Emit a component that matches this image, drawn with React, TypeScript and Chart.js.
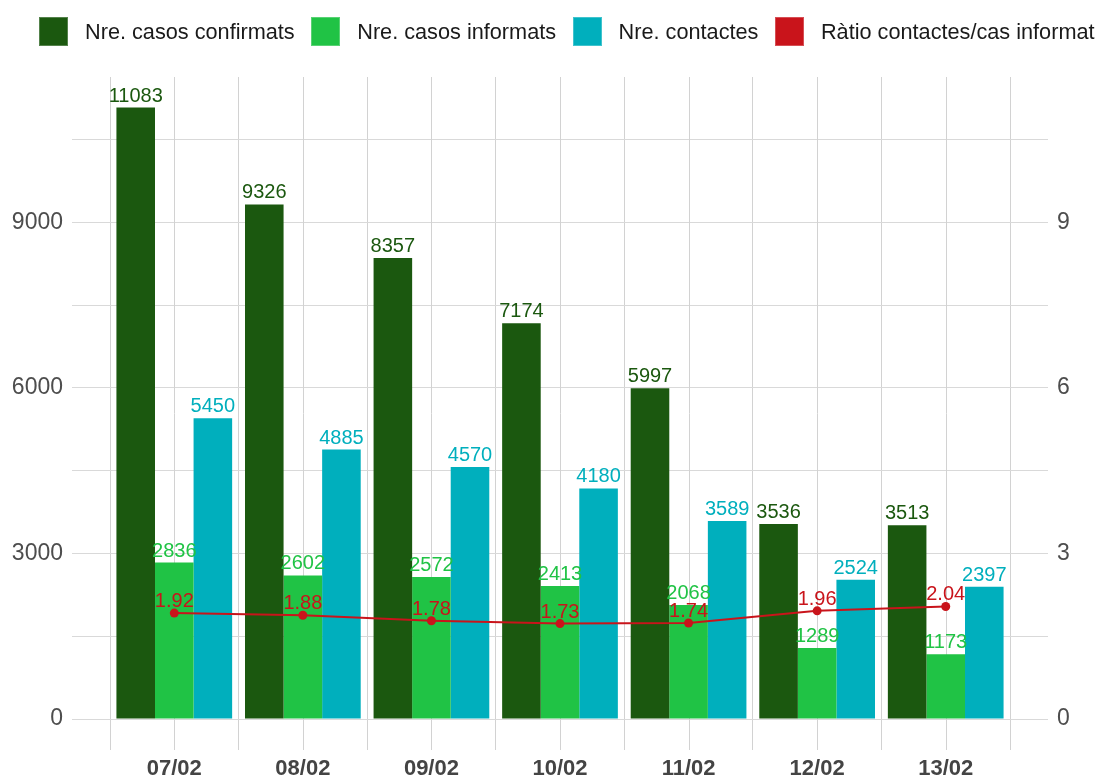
import React, { useEffect, useRef } from "react";
import { Chart, registerables } from "chart.js";

Chart.register(...registerables);

const categories = ["07/02", "08/02", "09/02", "10/02", "11/02", "12/02", "13/02"];
const confirmats = [11083, 9326, 8357, 7174, 5997, 3536, 3513];
const informats = [2836, 2602, 2572, 2413, 2068, 1289, 1173];
const contactes = [5450, 4885, 4570, 4180, 3589, 2524, 2397];
const ratio = [1.92, 1.88, 1.78, 1.73, 1.74, 1.96, 2.04];
const labelRatio = ["1.92", "1.88", "1.78", "1.73", "1.74", "1.96", "2.04"];

// tick positions (major labelled every 3000 / 3, minor lines every 1500 / 1.5)
const leftTicks = [0, 1500, 3000, 4500, 6000, 7500, 9000, 10500];
const leftLabels = ["0", "", "3000", "", "6000", "", "9000", ""];
const rightTicks = [0, 1.5, 3, 4.5, 6, 7.5, 9, 10.5];
const rightLabels = ["0", "", "3", "", "6", "", "9", ""];
const leftMax = 11637;
const rightMax = 11.637;

const seriesNames = [
  "Nre. casos confirmats",
  "Nre. casos informats",
  "Nre. contactes",
  "Ràtio contactes/cas informat",
];
const colors = ["#1b580f", "#20c345", "#00afbd", "#c9141b"];

const FONT = "'Liberation Sans', Arial, sans-serif";

const centerLines = {
  id: "centerLines",
  beforeDatasetsDraw(chart: any) {
    const { ctx, chartArea } = chart;
    const xs = chart.scales.x;
    ctx.save();
    ctx.strokeStyle = "#d2d2d2";
    ctx.lineWidth = 1;
    for (let i = 0; i < categories.length; i++) {
      const x = Math.round(xs.getPixelForValue(i)) + 0.5;
      ctx.beginPath();
      ctx.moveTo(x, chartArea.top);
      ctx.lineTo(x, chartArea.bottom + 31);
      ctx.stroke();
    }
    ctx.restore();
  },
};

const valueLabels = {
  id: "valueLabels",
  afterDatasetsDraw(chart: any) {
    const { ctx } = chart;
    ctx.save();
    ctx.textAlign = "center";
    ctx.textBaseline = "alphabetic";
    chart.data.datasets.forEach((ds: any, di: number) => {
      const meta = chart.getDatasetMeta(di);
      meta.data.forEach((el: any, i: number) => {
        ctx.fillStyle = colors[di];
        ctx.font = `20px ${FONT}`;
        const txt = di === 3 ? labelRatio[i] : String(ds.data[i]);
        ctx.fillText(txt, el.x, el.y - 6);
      });
    });
    ctx.restore();
  },
};

export default function App() {
  const ref = useRef<HTMLCanvasElement>(null);
  useEffect(() => {
    if (!ref.current) return;
    const chart = new Chart(ref.current, {
      type: "bar",
      data: {
        labels: categories,
        datasets: [
          {
            label: seriesNames[0],
            data: confirmats,
            backgroundColor: colors[0],
            yAxisID: "y",
            order: 1,
            categoryPercentage: 0.9,
            barPercentage: 1,
          },
          {
            label: seriesNames[1],
            data: informats,
            backgroundColor: colors[1],
            yAxisID: "y",
            order: 1,
            categoryPercentage: 0.9,
            barPercentage: 1,
          },
          {
            label: seriesNames[2],
            data: contactes,
            backgroundColor: colors[2],
            yAxisID: "y",
            order: 1,
            categoryPercentage: 0.9,
            barPercentage: 1,
          },
          {
            type: "line",
            label: seriesNames[3],
            data: ratio,
            borderColor: colors[3],
            backgroundColor: colors[3],
            borderWidth: 2,
            pointRadius: 4.5,
            pointBorderWidth: 0,
            yAxisID: "y1",
            order: 0,
            tension: 0,
          } as any,
        ],
      },
      options: {
        responsive: false,
        animation: false,
        devicePixelRatio: 1,
        layout: { padding: { top: 77, left: 0, right: 0, bottom: 0 } },
        plugins: {
          legend: { display: false },
          tooltip: { enabled: false },
        },
        scales: {
          x: {
            position: "bottom",
            offset: true,
            grid: { offset: true, color: "#d2d2d2", tickLength: 31, lineWidth: 1 },
            border: { display: false },
            ticks: {
              font: { family: FONT, size: 22, weight: "bold" },
              color: "#444444",
              padding: 6,
              maxRotation: 0,
            },
            afterFit: (s: any) => {
              s.height = 57;
            },
          },
          y: {
            position: "left",
            min: 0,
            max: leftMax,
            grid: { color: "#d9d9d9", tickLength: 38, lineWidth: 1 },
            border: { display: false },
            afterBuildTicks: (s: any) => {
              s.ticks = leftTicks.map((v) => ({ value: v }));
            },
            ticks: {
              font: { family: FONT, size: 23 },
              color: "#4d4d4d",
              padding: 9,
              callback: (_v: any, i: number) => leftLabels[i],
            },
            afterFit: (s: any) => {
              s.width = 110;
            },
          },
          y1: {
            position: "right",
            min: 0,
            max: rightMax,
            grid: { color: "#d9d9d9", tickLength: 38, lineWidth: 1, drawOnChartArea: false },
            border: { display: false },
            afterBuildTicks: (s: any) => {
              s.ticks = rightTicks.map((v) => ({ value: v }));
            },
            ticks: {
              font: { family: FONT, size: 23 },
              color: "#4d4d4d",
              padding: 9,
              callback: (_v: any, i: number) => rightLabels[i],
            },
            afterFit: (s: any) => {
              s.width = 92;
            },
          },
        },
      } as any,
      plugins: [centerLines, valueLabels],
    });
    return () => chart.destroy();
  }, []);

  return (
    <div
      style={{
        position: "fixed",
        left: 0,
        top: 0,
        width: 1102,
        height: 776,
        background: "#ffffff",
        overflow: "hidden",
      }}
    >
      <canvas ref={ref} width={1102} height={776} style={{ width: 1102, height: 776, display: "block" }} />
      <div
        style={{
          position: "absolute",
          left: 39,
          top: 17,
          display: "flex",
          alignItems: "center",
          whiteSpace: "nowrap",
          fontFamily: FONT,
          fontSize: 21.7,
          color: "#1a1a1a",
          lineHeight: "29px",
        }}
      >
        {seriesNames.map((n, i) => (
          <div key={n} style={{ display: "flex", alignItems: "center", marginRight: 16.5 }}>
            <span
              style={{
                display: "inline-block",
                width: 29,
                height: 29,
                background: colors[i],
                marginRight: 17,
                boxSizing: "border-box",
                border: "1px solid rgba(255,255,255,0.25)",
              }}
            />
            <span>{n}</span>
          </div>
        ))}
      </div>
    </div>
  );
}
